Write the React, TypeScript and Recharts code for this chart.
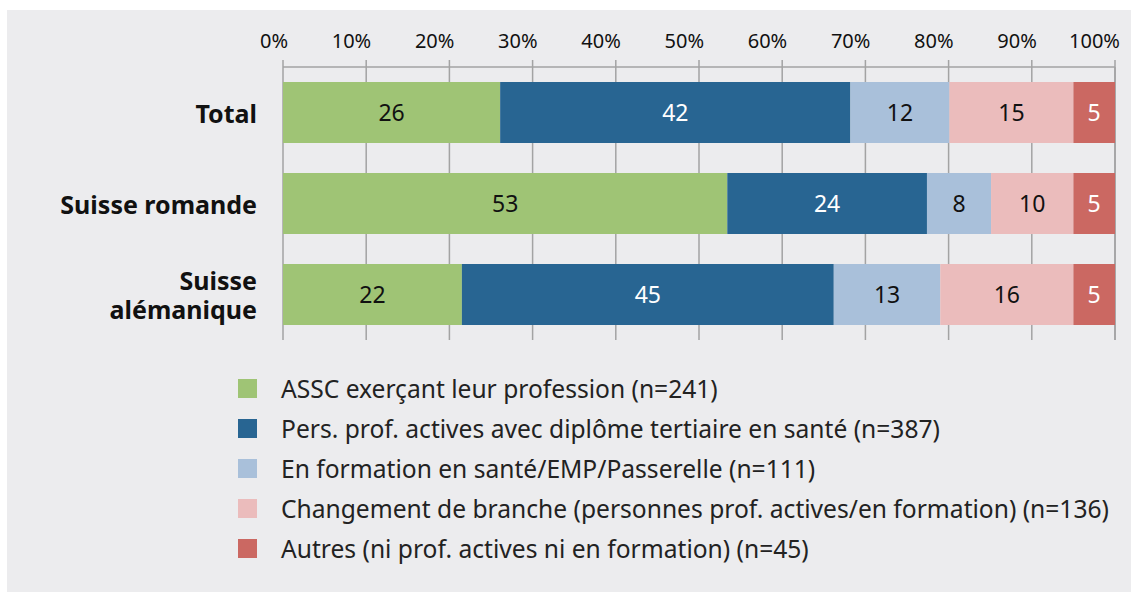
import { BarChart, Bar, XAxis, YAxis, CartesianGrid, LabelList } from 'recharts';

// Categories (top to bottom)
const categories = ['Total', 'Suisse romande', 'Suisse alémanique'];

// Shares in percent (labels show rounded values)
const assc = [26.1, 53.4, 21.5];
const tertiaire = [42.1, 24.0, 44.7];
const enFormation = [11.9, 7.7, 12.8];
const changement = [14.9, 9.9, 16.0];
const autres = [5.0, 5.0, 5.0];

const xTicks = [0, 10, 20, 30, 40, 50, 60, 70, 80, 90, 100];

const seriesKeys = ['assc', 'tertiaire', 'enFormation', 'changement', 'autres'];
const seriesNames = [
  'ASSC exerçant leur profession (n=241)',
  'Pers. prof. actives avec diplôme tertiaire en santé (n=387)',
  'En formation en santé/EMP/Passerelle (n=111)',
  'Changement de branche (personnes prof. actives/en formation) (n=136)',
  'Autres (ni prof. actives ni en formation) (n=45)',
];
const seriesColors = ['#9fc475', '#286592', '#a9c0da', '#ebbcbc', '#cb6862'];
const labelColors = ['#111', '#fff', '#111', '#111', '#fff'];

const seriesValues = [assc, tertiaire, enFormation, changement, autres];

const data = categories.map((name, i) => {
  const row: Record<string, string | number> = { name };
  seriesKeys.forEach((k, s) => {
    row[k] = seriesValues[s][i];
  });
  return row;
});

const FONT = '"Noto Sans", "Open Sans", sans-serif';
const BG = '#ececee';
const GRID = '#a3a3a3';

function PercentTick(props: any) {
  const { x, y, payload } = props;
  // labels sit slightly left of their tick, right-aligned
  return (
    <text x={x + 5} y={y} textAnchor="end" fontFamily={FONT} fontSize={20} fill="#111">
      {`${payload.value}%`}
    </text>
  );
}

function CategoryTick(props: any) {
  const { x, y, payload } = props;
  const label: string = payload.value;
  const lines = label === 'Suisse alémanique' ? ['Suisse', 'alémanique'] : [label];
  const lineH = 29;
  const start = y - ((lines.length - 1) * lineH) / 2;
  return (
    <text
      x={x}
      y={start}
      textAnchor="end"
      dominantBaseline="central"
      fontFamily={FONT}
      fontWeight={700}
      fontSize={25}
      fill="#111"
    >
      {lines.map((l, i) => (
        <tspan key={i} x={x} y={start + i * lineH}>
          {l}
        </tspan>
      ))}
    </text>
  );
}

export default function App() {
  return (
    <div
      style={{
        position: 'absolute',
        left: 0,
        top: 0,
        width: 1131,
        height: 592,
        background: '#fff',
        fontFamily: FONT,
      }}
    >
      <div
        style={{
          position: 'absolute',
          left: 7,
          top: 10,
          width: 1124,
          height: 582,
          background: BG,
        }}
      >
        <BarChart
          width={1124}
          height={582}
          data={data}
          layout="vertical"
          barSize={61}
          margin={{ top: 27, right: 16, bottom: 252, left: 0 }}
        >
          <CartesianGrid vertical horizontal={false} stroke={GRID} strokeWidth={1.5} />
          <XAxis
            type="number"
            orientation="top"
            domain={[0, 100]}
            ticks={xTicks}
            height={30}
            axisLine={{ stroke: GRID, strokeWidth: 1.5 }}
            tickLine={{ stroke: GRID, strokeWidth: 1.5 }}
            tickSize={7}
            tickMargin={12}
            tick={<PercentTick />}
            interval={0}
          />
          <YAxis
            type="category"
            dataKey="name"
            width={276}
            axisLine={false}
            tickLine={false}
            tickSize={0}
            tickMargin={26}
            tick={<CategoryTick />}
          />
          {seriesKeys.map((k, s) => (
            <Bar
              key={k}
              dataKey={k}
              name={seriesNames[s]}
              stackId="a"
              fill={seriesColors[s]}
              isAnimationActive={false}
            >
              <LabelList
                dataKey={k}
                position="center"
                formatter={(v: any) => Math.round(Number(v))}
                fill={labelColors[s]}
                fontSize={23}
                fontFamily={FONT}
              />
            </Bar>
          ))}
        </BarChart>
        <div style={{ position: 'absolute', left: 231, top: 358 }}>
          {seriesNames.map((n, s) => (
            <div
              key={n}
              style={{ display: 'flex', alignItems: 'center', height: 40 }}
            >
              <span
                style={{
                  width: 19,
                  height: 19,
                  background: seriesColors[s],
                  marginRight: 24,
                  flex: 'none',
                }}
              />
              <span style={{ fontSize: 24.6, color: '#222', whiteSpace: 'nowrap' }}>{n}</span>
            </div>
          ))}
        </div>
      </div>
    </div>
  );
}
